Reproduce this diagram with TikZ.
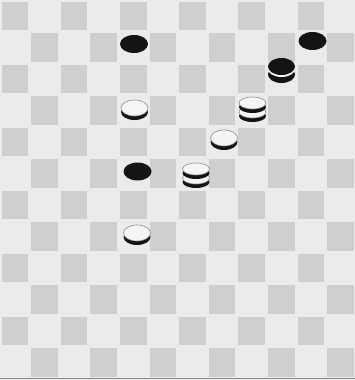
\documentclass[tikz,border=0pt]{standalone}
\usetikzlibrary{positioning}
\colorlet{lightsq}{black!8}
\colorlet{darksq}{black!19}
\colorlet{piece}{black!92}
\tikzset{
  wman/.pic={
    \fill[piece] (0,4) ellipse (13.5 and 8);
    \filldraw[fill=white!96!black, draw=black!45, line width=0.6pt] (0,0) ellipse (13.5 and 8);
  },
  wking/.pic={
    \fill[piece] (0,13) ellipse (13.5 and 6);
    \filldraw[fill=white!96!black, draw=black!45, line width=0.6pt] (0,9) ellipse (13.5 and 6);
    \fill[piece] (0,4) ellipse (13.5 and 6);
    \filldraw[fill=white!96!black, draw=black!45, line width=0.6pt] (0,0) ellipse (13.5 and 6);
  },
  bman/.pic={
    \fill[piece] (0,0) ellipse (14 and 9);
  },
  bking/.pic={
    \fill[piece] (0,8) ellipse (13.5 and 8.5);
    \fill[white!96!black] (0,2) ellipse (13.8 and 8.5);
    \fill[piece] (0,0) ellipse (13.5 and 8.5);
  }
}
\begin{document}
\begin{tikzpicture}[x=1pt, y=-1pt]
  \useasboundingbox (0,0) rectangle (355,380);
  \fill[lightsq] (0,0) rectangle (355,380);
  % board
  \foreach \r in {0,...,11}
    \foreach \c in {0,2,...,10} {
      \pgfmathtruncatemacro\k{\c+mod(\r,2)}
      \fill[darksq] (\k*29.6+1.5, \r*31.5+1.5) rectangle ++(26.6, 28.5);
    }
  \draw[black!45, line width=1pt] (0,378.5) -- (355,378.5);
  % pieces
  \foreach \x/\y in {134/44, 312.5/41, 137.5/171.5}
    \pic at (\x,\y) {bman};
  \pic at (281.5,66.5) {bking};
  \foreach \x/\y in {134.5/108, 137/233, 224/138}
    \pic at (\x,\y) {wman};
  \foreach \x/\y in {252.5/103, 196/169}
    \pic at (\x,\y) {wking};
\end{tikzpicture}
\end{document}
